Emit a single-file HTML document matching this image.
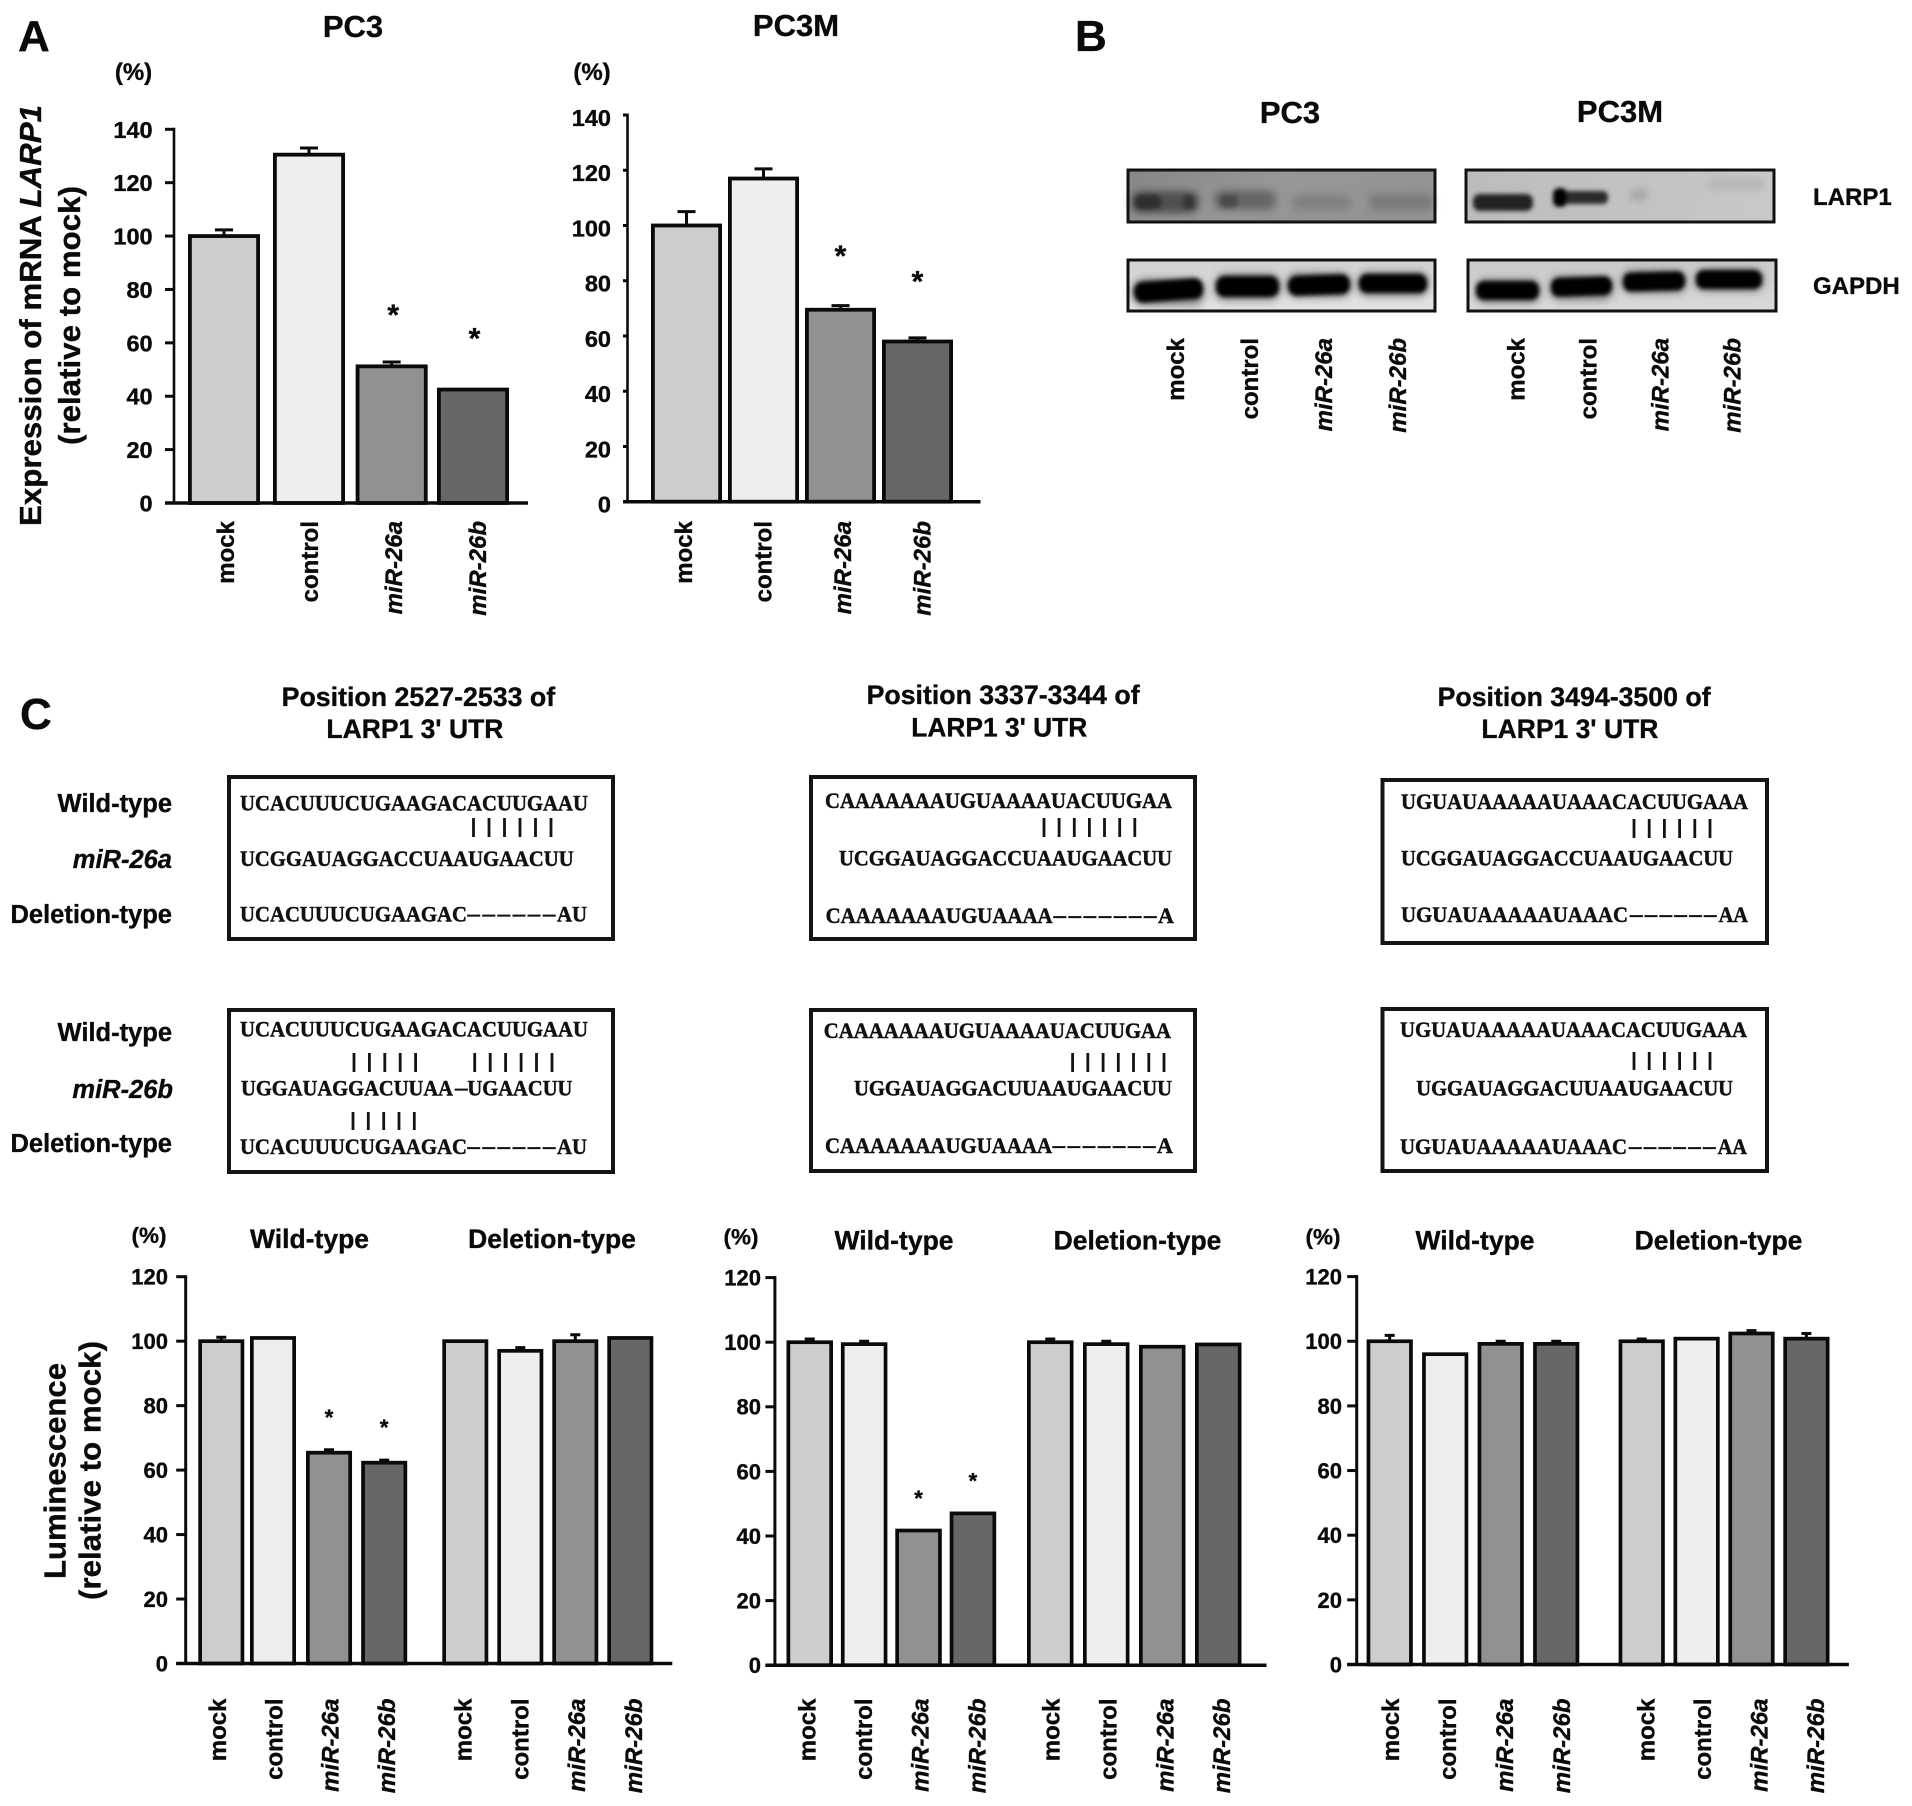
<!DOCTYPE html>
<html lang="en">
<head>
<meta charset="utf-8">
<title>LARP1 expression figure</title>
<style>
html,body{margin:0;padding:0;background:#fff;width:1912px;height:1806px;overflow:hidden}
svg{display:block}
text{font-family:"Liberation Sans",Arial,sans-serif;font-weight:bold;fill:#0a0a0a;stroke:#0a0a0a;stroke-width:.35px}
.seq{font-family:"Liberation Serif","Liberation Mono",serif;font-size:22px;fill:#111;stroke:#111;stroke-width:.5px}
.dash{font-family:"Liberation Serif",serif;font-size:25px;fill:#111;stroke-width:.3px}
.box{fill:#fff;stroke:#141414;stroke-width:4}
.pair{fill:none;stroke:#141414;stroke-width:2.8}
.row{font-size:25.5px;text-anchor:end}
.pos{font-size:27px}
.lab{font-size:44px}
.head{font-size:31px;text-anchor:middle}
.blotframe{fill:none;stroke:#111;stroke-width:3}
</style>
</head>
<body>
<svg id="figure" xmlns="http://www.w3.org/2000/svg" width="1912" height="1806" viewBox="0 0 1912 1806">
<defs>
<filter id="b1" x="-30%" y="-80%" width="160%" height="260%"><feGaussianBlur stdDeviation="2.2"/></filter>
<filter id="b2" x="-30%" y="-120%" width="160%" height="340%"><feGaussianBlur stdDeviation="4"/></filter>
<linearGradient id="bgL1" x1="0" y1="0" x2="1" y2="0.25"><stop offset="0" stop-color="#868686"/><stop offset="0.5" stop-color="#979797"/><stop offset="1" stop-color="#939393"/></linearGradient>
<linearGradient id="bgL2" x1="0" y1="0" x2="1" y2="0"><stop offset="0" stop-color="#bcbcbc"/><stop offset="1" stop-color="#c8c8c8"/></linearGradient>
<linearGradient id="bgG1" x1="0" y1="0" x2="0" y2="1"><stop offset="0" stop-color="#d2d2d2"/><stop offset="1" stop-color="#e4e4e4"/></linearGradient>
<linearGradient id="bgG2" x1="0" y1="0" x2="0" y2="1"><stop offset="0" stop-color="#cacaca"/><stop offset="1" stop-color="#dadada"/></linearGradient>
</defs>

<text class="lab" x="18" y="51">A</text>
<text class="lab" x="1075" y="51">B</text>
<text class="lab" x="20" y="729">C</text>

<text class="head" x="353" y="37">PC3</text>
<text class="head" x="796" y="36">PC3M</text>
<text font-size="31" transform="translate(41 526) rotate(-90)" x="0" y="0" textLength="421" lengthAdjust="spacingAndGlyphs">Expression of mRNA <tspan font-style="italic">LARP1</tspan></text>
<text font-size="31" transform="translate(80 445) rotate(-90)" x="0" y="0" textLength="259" lengthAdjust="spacingAndGlyphs">(relative to mock)</text>

<!-- Panel B -->
<text class="head" x="1290" y="123">PC3</text>
<text class="head" x="1620" y="122">PC3M</text>
<text font-size="24" x="1813" y="205">LARP1</text>
<text font-size="24" x="1813" y="294">GAPDH</text>

<g>
<rect x="1128" y="170" width="307" height="52" fill="url(#bgL1)"/>
<g filter="url(#b2)">
<rect x="1131" y="191" width="68" height="22" rx="9" fill="#505050"/>
<rect x="1214" y="190" width="62" height="20" rx="9" fill="#666666"/>
<rect x="1292" y="195" width="59" height="15" rx="7" fill="#808080"/>
<rect x="1369" y="194" width="64" height="16" rx="7" fill="#797979"/>
</g>
<g filter="url(#b1)">
<rect x="1135" y="195" width="26" height="14" rx="6" fill="#2e2e2e"/>
<rect x="1183" y="195" width="11" height="14" rx="5" fill="#343434"/>
<rect x="1220" y="195" width="18" height="12" rx="5" fill="#484848"/>
</g>
<rect class="blotframe" x="1128" y="170" width="307" height="52"/>
</g>
<g>
<rect x="1466" y="170" width="308" height="52" fill="url(#bgL2)"/>
<g filter="url(#b2)">
<rect x="1630" y="189" width="18" height="12" rx="5" fill="#a8a8a8"/>
<rect x="1708" y="179" width="56" height="10" rx="4" fill="#b4b4b4"/>
</g>
<g filter="url(#b1)">
<rect x="1473" y="194" width="60" height="17" rx="7" fill="#202020"/>
<rect x="1556" y="191" width="52" height="13" rx="5" fill="#2c2c2c"/>
<rect x="1553" y="188" width="14" height="19" rx="6" fill="#060606"/>
</g>
<rect class="blotframe" x="1466" y="170" width="308" height="52"/>
</g>
<g>
<rect x="1128" y="260" width="307" height="51" fill="url(#bgG1)"/>
<g filter="url(#b2)" opacity="0.6">
<rect x="1132" y="278" width="73" height="28" rx="11" fill="#555"/>
<rect x="1214" y="273" width="67" height="28" rx="11" fill="#555"/>
<rect x="1286" y="272" width="66" height="26" rx="11" fill="#555"/>
<rect x="1357" y="271" width="72" height="26" rx="11" fill="#555"/>
</g>
<g filter="url(#b1)" fill="#030303">
<rect x="1134" y="280" width="69" height="21" rx="9" transform="rotate(-4 1168 290)"/>
<rect x="1216" y="276" width="63" height="21" rx="9"/>
<rect x="1288" y="275" width="62" height="20" rx="9" transform="rotate(-2 1319 285)"/>
<rect x="1359" y="274" width="68" height="19" rx="8"/>
</g>
<rect class="blotframe" x="1128" y="260" width="307" height="51"/>
</g>
<g>
<rect x="1468" y="260" width="308" height="51" fill="url(#bgG2)"/>
<g filter="url(#b2)" opacity="0.55">
<rect x="1475" y="278" width="66" height="26" rx="11" fill="#555"/>
<rect x="1549" y="275" width="65" height="26" rx="11" fill="#555"/>
<rect x="1621" y="269" width="66" height="25" rx="11" fill="#555"/>
<rect x="1694" y="268" width="70" height="24" rx="11" fill="#555"/>
</g>
<g filter="url(#b1)" fill="#030303">
<rect x="1476" y="281" width="63" height="19" rx="8"/>
<rect x="1551" y="277" width="61" height="19" rx="8" transform="rotate(-2 1581 286)"/>
<rect x="1623" y="272" width="62" height="19" rx="8" transform="rotate(-1.5 1654 281)"/>
<rect x="1696" y="270" width="66" height="19" rx="8"/>
</g>
<rect class="blotframe" x="1468" y="260" width="308" height="51"/>
</g>

<!-- Panel C headings -->
<text class="pos" x="281.6" y="706" textLength="273.6" lengthAdjust="spacingAndGlyphs">Position 2527-2533 of</text>
<text class="pos" x="326.4" y="738" textLength="177" lengthAdjust="spacingAndGlyphs">LARP1 3' UTR</text>
<text class="pos" x="866.6" y="704" textLength="273" lengthAdjust="spacingAndGlyphs">Position 3337-3344 of</text>
<text class="pos" x="911.3" y="736.7" textLength="176" lengthAdjust="spacingAndGlyphs">LARP1 3' UTR</text>
<text class="pos" x="1437.6" y="706" textLength="273" lengthAdjust="spacingAndGlyphs">Position 3494-3500 of</text>
<text class="pos" x="1481.4" y="738" textLength="177" lengthAdjust="spacingAndGlyphs">LARP1 3' UTR</text>

<text class="row" x="172" y="812">Wild-type</text>
<text class="row" x="172" y="868" font-style="italic">miR-26a</text>
<text class="row" x="172" y="923">Deletion-type</text>
<text class="row" x="172" y="1041">Wild-type</text>
<text class="row" x="173" y="1098" font-style="italic">miR-26b</text>
<text class="row" x="172" y="1152">Deletion-type</text>

<!-- Site 1, miR-26a -->
<g>
<rect class="box" x="229" y="777" width="384" height="162"/>
<text class="seq" x="240" y="810.7" textLength="348" lengthAdjust="spacingAndGlyphs">UCACUUUCUGAAGACACUUGAAU</text>
<path class="pair" d="M473.5 818v19M489 818v19M504.5 818v19M520 818v19M535.5 818v19M551 818v19"/>
<text class="seq" x="240" y="866" textLength="333.6" lengthAdjust="spacingAndGlyphs">UCGGAUAGGACCUAAUGAACUU</text>
<text class="seq" x="240" y="921.7" textLength="227" lengthAdjust="spacingAndGlyphs">UCACUUUCUGAAGAC</text>
<text class="dash" x="467.4" y="921.7" textLength="88" lengthAdjust="spacing">––––––</text>
<text class="seq" x="557" y="921.7" textLength="30" lengthAdjust="spacingAndGlyphs">AU</text>
</g>
<!-- Site 1, miR-26b -->
<g>
<rect class="box" x="229" y="1010" width="384" height="162"/>
<text class="seq" x="240" y="1036.7" textLength="348" lengthAdjust="spacingAndGlyphs">UCACUUUCUGAAGACACUUGAAU</text>
<path class="pair" d="M354 1053v19M369.4 1053v19M384.8 1053v19M400.2 1053v19M415.6 1053v19M474.7 1053v19M490.2 1053v19M505.6 1053v19M521.1 1053v19M536.5 1053v19M552 1053v19"/>
<text class="seq" x="241" y="1095.7" textLength="212" lengthAdjust="spacingAndGlyphs">UGGAUAGGACUUAA</text>
<text class="dash" x="455" y="1095.7">–</text>
<text class="seq" x="467.4" y="1095.7" textLength="105" lengthAdjust="spacingAndGlyphs">UGAACUU</text>
<path class="pair" d="M353 1112v18M368.3 1112v18M383.7 1112v18M399 1112v18M414.3 1112v18"/>
<text class="seq" x="240" y="1154" textLength="227" lengthAdjust="spacingAndGlyphs">UCACUUUCUGAAGAC</text>
<text class="dash" x="467.4" y="1154" textLength="88" lengthAdjust="spacing">––––––</text>
<text class="seq" x="557" y="1154" textLength="30" lengthAdjust="spacingAndGlyphs">AU</text>
</g>
<!-- Site 2, miR-26a -->
<g>
<rect class="box" x="811" y="777" width="384" height="162"/>
<text class="seq" x="825" y="808" textLength="347" lengthAdjust="spacingAndGlyphs">CAAAAAAAUGUAAAAUACUUGAA</text>
<path class="pair" d="M1044 818v19M1059.1 818v19M1074.3 818v19M1089.4 818v19M1104.5 818v19M1119.7 818v19M1134.8 818v19"/>
<text class="seq" x="839" y="865.7" textLength="333" lengthAdjust="spacingAndGlyphs">UCGGAUAGGACCUAAUGAACUU</text>
<text class="seq" x="825.6" y="923" textLength="227" lengthAdjust="spacingAndGlyphs">CAAAAAAAUGUAAAA</text>
<text class="dash" x="1053.5" y="923" textLength="103" lengthAdjust="spacing">–––––––</text>
<text class="seq" x="1158" y="923">A</text>
</g>
<!-- Site 2, miR-26b -->
<g>
<rect class="box" x="811" y="1010" width="384" height="161"/>
<text class="seq" x="823.8" y="1038" textLength="347.2" lengthAdjust="spacingAndGlyphs">CAAAAAAAUGUAAAAUACUUGAA</text>
<path class="pair" d="M1072.6 1053v19M1087.8 1053v19M1103.1 1053v19M1118.3 1053v19M1133.5 1053v19M1148.8 1053v19M1164 1053v19"/>
<text class="seq" x="854" y="1095.7" textLength="318" lengthAdjust="spacingAndGlyphs">UGGAUAGGACUUAAUGAACUU</text>
<text class="seq" x="825" y="1153" textLength="227" lengthAdjust="spacingAndGlyphs">CAAAAAAAUGUAAAA</text>
<text class="dash" x="1052.6" y="1153" textLength="103" lengthAdjust="spacing">–––––––</text>
<text class="seq" x="1157" y="1153">A</text>
</g>
<!-- Site 3, miR-26a -->
<g>
<rect class="box" x="1382.5" y="780" width="384.5" height="163"/>
<text class="seq" x="1401" y="809" textLength="347" lengthAdjust="spacingAndGlyphs">UGUAUAAAAAUAAACACUUGAAA</text>
<path class="pair" d="M1634 819v19M1649.2 819v19M1664.4 819v19M1679.6 819v19M1694.8 819v19M1710 819v19"/>
<text class="seq" x="1401" y="865.7" textLength="332" lengthAdjust="spacingAndGlyphs">UCGGAUAGGACCUAAUGAACUU</text>
<text class="seq" x="1401" y="922" textLength="227" lengthAdjust="spacingAndGlyphs">UGUAUAAAAAUAAAC</text>
<text class="dash" x="1630" y="922" textLength="86.5" lengthAdjust="spacing">––––––</text>
<text class="seq" x="1718.6" y="922" textLength="29.4" lengthAdjust="spacingAndGlyphs">AA</text>
</g>
<!-- Site 3, miR-26b -->
<g>
<rect class="box" x="1382.5" y="1009" width="384.5" height="162"/>
<text class="seq" x="1400" y="1037" textLength="347" lengthAdjust="spacingAndGlyphs">UGUAUAAAAAUAAACACUUGAAA</text>
<path class="pair" d="M1634 1052v18M1649.2 1052v18M1664.4 1052v18M1679.6 1052v18M1694.8 1052v18M1710 1052v18"/>
<text class="seq" x="1416.3" y="1095.7" textLength="316.7" lengthAdjust="spacingAndGlyphs">UGGAUAGGACUUAAUGAACUU</text>
<text class="seq" x="1400" y="1154" textLength="227" lengthAdjust="spacingAndGlyphs">UGUAUAAAAAUAAAC</text>
<text class="dash" x="1629" y="1154" textLength="86.5" lengthAdjust="spacing">––––––</text>
<text class="seq" x="1717.6" y="1154" textLength="29.4" lengthAdjust="spacingAndGlyphs">AA</text>
</g>

<text font-size="31" transform="translate(65.7 1579) rotate(-90)" x="0" y="0" textLength="216" lengthAdjust="spacingAndGlyphs">Luminescence</text>
<text font-size="31" transform="translate(100.5 1600) rotate(-90)" x="0" y="0" textLength="259" lengthAdjust="spacingAndGlyphs">(relative to mock)</text>
</svg>

<script>
const categories = ['mock', 'control', 'miR-26a', 'miR-26b'];
const barColors = ['#cdcdcd', '#eeeeee', '#919191', '#676767'];

const ticksExpression = [0, 20, 40, 60, 80, 100, 120, 140];
const ticksLuminescence = [0, 20, 40, 60, 80, 100, 120];

const pc3Values = [100, 130.5, 51.2, 42.5];
const pc3Errors = [2.3, 2.5, 1.6, 0];
const pc3Sig = [false, false, true, true];

const pc3mValues = [100, 117, 69.5, 58];
const pc3mErrors = [5, 3.5, 1.5, 1.3];
const pc3mSig = [false, false, true, true];

const site1WildValues = [100, 101, 65.4, 62.3];
const site1WildErrors = [1.2, 0, 0.9, 0.8];
const site1WildSig = [false, false, true, true];
const site1DelValues = [100, 97, 100, 101];
const site1DelErrors = [0, 1, 2, 0];

const site2WildValues = [100, 99.4, 41.7, 47];
const site2WildErrors = [1, 0.9, 0, 0];
const site2WildSig = [false, false, true, true];
const site2DelValues = [100, 99.4, 98.6, 99.3];
const site2DelErrors = [1, 0.9, 0, 0];

const site3WildValues = [100, 96, 99.2, 99.2];
const site3WildErrors = [1.8, 0, 0.8, 0.8];
const site3DelValues = [100, 100.8, 102.4, 100.8];
const site3DelErrors = [0.7, 0, 0.9, 1.6];

const noSig = [false, false, false, false];
const evenSlots = [0, 1, 2, 3];
const NS = 'http://www.w3.org/2000/svg';
const root = document.getElementById('figure');

function make(tag, attrs, parent, text) {
  const el = document.createElementNS(NS, tag);
  for (const k in attrs) el.setAttribute(k, attrs[k]);
  if (text !== undefined) el.textContent = text;
  parent.appendChild(el);
  return el;
}

function drawCategoryLabels(parent, start, step, top, size) {
  categories.forEach(function (cat, i) {
    const x = start + i * step;
    const t = make('text', {
      x: x, y: top, 'text-anchor': 'end', 'font-size': size,
      'font-style': cat.indexOf('miR') === 0 ? 'italic' : 'normal',
      transform: 'rotate(-90 ' + x + ' ' + top + ')'
    }, parent, cat);
    
    
  });
}

function drawPanel(p) {
  const g = make('g', {}, root);
  
  
  const maxTick = p.ticks[p.ticks.length - 1];
  const yScale = function (v) { return p.y0 - (v / maxTick) * (p.y0 - p.yTop); };

  p.groups.forEach(function (group) {
    const slots = group.slots || evenSlots;
    const xScale = function (i) { return group.start + slots[i] * group.step; };
    group.values.forEach(function (v, i) {
      const left = xScale(i);
      const cx = left + p.barW / 2;
      if (group.errors[i] > 0) {
        const err = make('path', {
          d: 'M' + cx + ' ' + yScale(v) + 'V' + yScale(v + group.errors[i]) +
             'M' + (cx - p.capW / 2) + ' ' + yScale(v + group.errors[i]) + 'H' + (cx + p.capW / 2),
          stroke: '#0a0a0a', 'stroke-width': 3, fill: 'none'
        }, g);
        
        
      }
      const bar = make('rect', {
        x: left + p.sw / 2, y: yScale(v),
        width: p.barW - p.sw, height: p.y0 - yScale(v),
        fill: barColors[i], stroke: '#0a0a0a', 'stroke-width': p.sw
      }, g);
      
      
      if (group.sig[i]) {
        const gap = p.starGaps ? p.starGaps[i] : p.starGap;
        const star = make('text', {
          x: cx + p.starShift, y: yScale(v) - gap + p.starSize * 0.56,
          'text-anchor': 'middle', 'font-size': p.starSize
        }, g, '*');
        
        
      }
    });
    drawCategoryLabels(g, group.labelStart, group.labelStep, p.labelTop, 24);
    if (group.title) {
      const h = make('text', {
        x: group.titleX, y: p.titleY, 'text-anchor': 'middle', 'font-size': 26.5
      }, g, group.title);
      
      
    }
  });

  const yAxis = make('line', {
    x1: p.axisX, x2: p.axisX, y1: p.yTop - 1.5, y2: p.y0,
    stroke: '#0a0a0a', 'stroke-width': p.axisW
  }, g);
  
  

  p.ticks.forEach(function (tick) {
    const y = yScale(tick);
    const mark = make('line', {
      x1: p.axisX - p.tickLen, x2: p.axisX, y1: y, y2: y,
      stroke: '#0a0a0a', 'stroke-width': 3
    }, g);
    
    
    const label = make('text', {
      x: p.tickRight, y: y + p.tickSize * 0.36 + p.tickShift,
      'text-anchor': 'end', 'font-size': p.tickSize
    }, g, String(tick));
    
    
  });

  const xAxis = make('line', {
    x1: p.axisX - p.tickLen, x2: p.xRight, y1: p.y0, y2: p.y0,
    stroke: '#0a0a0a', 'stroke-width': 3.5
  }, g);
  
  

  const unit = make('text', {
    x: p.unitX, y: p.unitY, 'text-anchor': 'middle', 'font-size': p.unitSize
  }, g, '(%)');
  
  
}

drawPanel({
  name: 'chart-pc3-expression', ticks: ticksExpression,
  axisX: 174, y0: 503, yTop: 129.3, xRight: 528, tickLen: 9, axisW: 2.6,
  barW: 72, sw: 3.8, capW: 18, tickRight: 152.6, tickSize: 23.5, tickShift: 0,
  labelTop: 521, starGap: 58, starSize: 30, starShift: 1.5,
  unitX: 133.5, unitY: 80, unitSize: 24,
  groups: [{ start: 188, step: 83, slots: [0, 1.024, 2.02, 3], values: pc3Values, errors: pc3Errors, sig: pc3Sig, labelStart: 234, labelStep: 84 }]
});
drawPanel({
  name: 'chart-pc3m-expression', ticks: ticksExpression,
  axisX: 627.5, y0: 501.7, yTop: 115, xRight: 980.5, tickLen: 4.5, axisW: 2.6,
  barW: 71, sw: 3.8, capW: 18, tickRight: 611, tickSize: 23.5, tickShift: 2.5,
  labelTop: 521, starGaps: [0, 0, 60.5, 67], starSize: 30, starShift: 0,
  unitX: 592, unitY: 80, unitSize: 24,
  groups: [{ start: 651, step: 77, values: pc3mValues, errors: pc3mErrors, sig: pc3mSig, labelStart: 692, labelStep: 79.5 }]
});
drawPanel({
  name: 'chart-site1-luminescence', ticks: ticksLuminescence,
  axisX: 185.7, y0: 1663.5, yTop: 1276.7, xRight: 672.3, tickLen: 9.5, axisW: 3,
  barW: 46, sw: 3.7, capW: 10, tickRight: 168, tickSize: 22, tickShift: 0,
  labelTop: 1698.5, starGap: 40, starSize: 22, starShift: 0, titleY: 1247.8,
  unitX: 149, unitY: 1243, unitSize: 22.5,
  groups: [
    { start: 198.3, step: 54.3, slots: [0, 0.952, 1.984, 3], values: site1WildValues, errors: site1WildErrors, sig: site1WildSig, labelStart: 226, labelStep: 56.3, title: 'Wild-type', titleX: 309.5 },
    { start: 442.3, step: 55, values: site1DelValues, errors: site1DelErrors, sig: noSig, labelStart: 471.6, labelStep: 56.8, title: 'Deletion-type', titleX: 552 }
  ]
});
drawPanel({
  name: 'chart-site2-luminescence', ticks: ticksLuminescence,
  axisX: 774.9, y0: 1665.2, yTop: 1277.6, xRight: 1266.5, tickLen: 9.5, axisW: 3,
  barW: 46.5, sw: 3.7, capW: 10, tickRight: 761, tickSize: 22, tickShift: 0,
  labelTop: 1698.5, starGap: 37, starSize: 22, starShift: 0, titleY: 1249.5,
  unitX: 741, unitY: 1244.5, unitSize: 22.5,
  groups: [
    { start: 786.5, step: 54.4, values: site2WildValues, errors: site2WildErrors, sig: site2WildSig, labelStart: 815.3, labelStep: 56.7, title: 'Wild-type', titleX: 894 },
    { start: 1027, step: 56, values: site2DelValues, errors: site2DelErrors, sig: noSig, labelStart: 1059.5, labelStep: 56.9, title: 'Deletion-type', titleX: 1137.5 }
  ]
});
drawPanel({
  name: 'chart-site3-luminescence', ticks: ticksLuminescence,
  axisX: 1356.7, y0: 1664.5, yTop: 1276.6, xRight: 1848.9, tickLen: 9.5, axisW: 3,
  barW: 46.2, sw: 3.7, capW: 10, tickRight: 1342, tickSize: 22, tickShift: 0,
  labelTop: 1698.5, starGap: 37, starSize: 22, starShift: 0, titleY: 1249.5,
  unitX: 1323, unitY: 1244.5, unitSize: 22.5,
  groups: [
    { start: 1366.6, step: 55.5, values: site3WildValues, errors: site3WildErrors, sig: noSig, labelStart: 1399, labelStep: 57, title: 'Wild-type', titleX: 1475 },
    { start: 1618.6, step: 54.9, values: site3DelValues, errors: site3DelErrors, sig: noSig, labelStart: 1654.7, labelStep: 56.5, title: 'Deletion-type', titleX: 1718.5 }
  ]
});

const blotLabels = make('g', {}, root);


drawCategoryLabels(blotLabels, 1184, 74, 338, 24);
drawCategoryLabels(blotLabels, 1524.7, 72, 338, 24);
</script>
</body>
</html>
